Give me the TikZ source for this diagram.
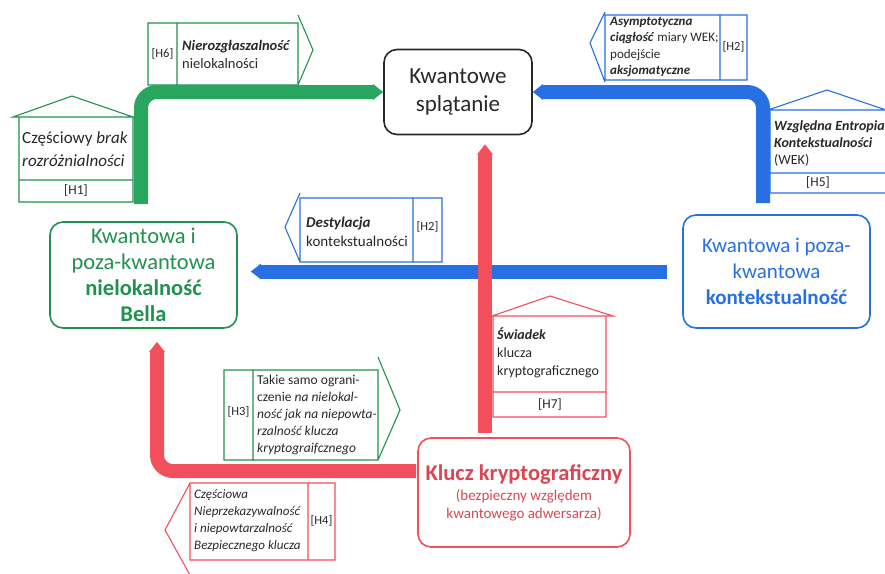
\documentclass[tikz,border=0pt]{standalone}
\usepackage{fontspec}
\setmainfont{Carlito}
\usetikzlibrary{arrows.meta}
\definecolor{zielony}{RGB}{34,145,80}
\definecolor{zielonyjasny}{RGB}{40,165,95}
\definecolor{niebieski}{RGB}{38,112,228}
\definecolor{czerwony}{RGB}{242,78,92}
\definecolor{ciemny}{RGB}{40,40,40}
\newcommand{\bi}[1]{\textbf{\textit{#1}}}

\begin{document}
\begin{tikzpicture}[x=1pt,y=-1pt,
  box/.style={draw,rounded corners=13pt,line width=1.6pt,align=center,inner sep=0pt},
  tube/.style={line width=14pt,rounded corners=16pt,-{Triangle[width=15pt,length=10pt]}},
  lbl/.style={line width=1.1pt},
  txt/.style={text=ciemny,align=left,inner sep=0pt,anchor=west}]
\useasboundingbox (0,0) rectangle (885,573);
\clip (0,0) rectangle (885,573);

% main boxes
\node[box,draw=ciemny,minimum width=148pt,minimum height=85pt,
  font=\fontsize{23}{28}\selectfont,text=ciemny] (splat) at (458,92) {Kwantowe\\splątanie};
\node[box,draw=zielony,minimum width=187pt,minimum height=106pt,
  font=\fontsize{22.5}{26}\selectfont,text=zielony] (bell) at (143.5,275)
  {Kwantowa i\\poza-kwantowa\\\textbf{nielokalność}\\\textbf{Bella}};
\node[box,draw=niebieski,minimum width=187pt,minimum height=113pt,
  font=\fontsize{21}{26}\selectfont,text=niebieski] (kont) at (776.5,271.5)
  {Kwantowa i poza-\\kwantowa\\\textbf{kontekstualność}};
\node[box,draw=czerwony,minimum width=212pt,minimum height=109pt,text=czerwony!90!black,
  font=\fontsize{15}{18}\selectfont] (klucz) at (524,492.5)
  {\textbf{\fontsize{22.5}{26}\selectfont Klucz kryptograficzny}\\[2pt]
   (bezpieczny względem\\kwantowego adwersarza)};

% H6
\draw[lbl,zielony] (148,23) rectangle (298,85) (177,23) -- (177,85)
  (298,15) -- (313,50) -- (298,85);
\node[txt,anchor=center,font=\fontsize{12.5}{15}\selectfont] (h6) at (162.5,54) {[H6]};
\node[txt,font=\fontsize{14.5}{18}\selectfont] (h6t) at (182,54) {\bi{Nierozgłaszalność}\\nielokalności};

% H1
\draw[lbl,zielony] (13,117) -- (72,96) -- (133,117) -- cycle
  (19,117) rectangle (133,202) (19,180) -- (133,180);
\node[txt,font=\fontsize{17}{23}\selectfont] (h1t) at (22,149) {Częściowy \textit{brak}\\\textit{rozróżnialności}};
\node[txt,anchor=center,font=\fontsize{13.5}{15}\selectfont] (h1) at (76,191) {[H1]};

% H2 (gora)
\draw[lbl,niebieski] (605,15) rectangle (747,80) (720,15) -- (720,80)
  (605,12) -- (590,43) -- (605,82);
\node[txt,font=\fontsize{13}{16.5}\selectfont] (h2at) at (610,47)
  {\bi{Asymptotyczna}\\\bi{ciągłość} miary WEK;\\podejście\\\bi{aksjomatyczne}};
\node[txt,anchor=center,font=\fontsize{12.5}{15}\selectfont] (h2a) at (733.5,47) {[H2]};

% H5
\draw[lbl,niebieski] (768,110) -- (827,90) -- (886,110) -- cycle
  (770,110) rectangle (892,193) (770,173) -- (892,173);
\node[txt,font=\fontsize{14}{17}\selectfont] (h5t) at (774,144)
  {\bi{Względna Entropia}\\\bi{Kontekstualności}\\(WEK)};
\node[txt,anchor=center,font=\fontsize{13.5}{15}\selectfont] (h5) at (818,183) {[H5]};

% H2 (srodek)
\draw[lbl,niebieski] (300,198) rectangle (442,262) (413,198) -- (413,262)
  (300,193) -- (285,227) -- (300,262);
\node[txt,font=\fontsize{15}{19}\selectfont] (h2bt) at (306,232) {\bi{Destylacja}\\kontekstualności};
\node[txt,anchor=center,font=\fontsize{12.5}{15}\selectfont] (h2b) at (427.5,227) {[H2]};

% H7
\draw[lbl,czerwony] (492,316) -- (550,296) -- (613,316) -- cycle
  (493,316) rectangle (606,417) (493,392) -- (606,392);
\node[txt,font=\fontsize{14}{18}\selectfont] (h7t) at (497,353)
  {\bi{Świadek}\\klucza\\kryptograficznego};
\node[txt,anchor=center,font=\fontsize{13.5}{15}\selectfont] (h7) at (550,405) {[H7]};

% H3
\draw[lbl,zielony] (224,370) rectangle (378,460) (253,370) -- (253,460)
  (378,357) -- (400,410) -- (378,460);
\node[txt,anchor=center,font=\fontsize{12.5}{15}\selectfont] (h3) at (238.5,412) {[H3]};
\node[txt,font=\fontsize{13.5}{17}\selectfont] (h3t) at (257,415)
  {Takie samo ograni-\\czenie \textit{na nielokal-}\\\textit{ność jak na niepowta-}\\\textit{rzalność klucza}\\\textit{kryptograifcznego}};

% H4
\draw[lbl,czerwony] (190,483) rectangle (335,560) (308,483) -- (308,560)
  (190,483) -- (165,530) -- (190,575);
\node[txt,font=\fontsize{13}{17}\selectfont] (h4t) at (194,521)
  {\textit{Częściowa}\\\textit{Nieprzekazywalność}\\\textit{i niepowtarzalność}\\\textit{Bezpiecznego klucza}};
\node[txt,anchor=center,font=\fontsize{12.5}{15}\selectfont] (h4) at (321.5,521) {[H4]};

% grube strzalki
\coordinate (g0) at (141,204);
\coordinate (b0) at (763,203);
\coordinate (r0) at (485,433);
\coordinate (r1) at (416,471);
\coordinate (r2) at (157,471);
\draw[tube,zielonyjasny] (g0) |- (splat.west);
\draw[tube,niebieski] (b0) |- (splat.east);
\draw[tube,niebieski,shorten <=15pt,shorten >=13pt] (kont.west) -- (kont.west -| bell.east);
\draw[tube,czerwony,shorten >=9pt] (r0) -- (r0 |- splat.south);
\draw[tube,czerwony,shorten >=13pt] (r1) -- (r2) -- (r2 |- bell.south);
\end{tikzpicture}
\end{document}
